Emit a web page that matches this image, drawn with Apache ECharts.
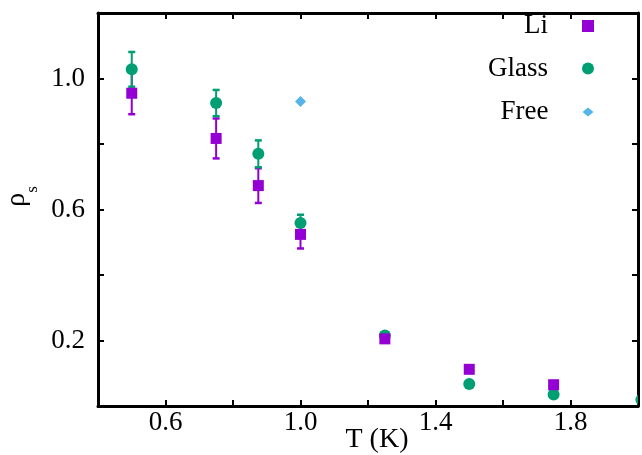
<!DOCTYPE html>
<html><head><meta charset="utf-8">
<script src="https://cdn.jsdelivr.net/npm/echarts@6/dist/echarts.min.js"></script>
<style>html,body{margin:0;padding:0;background:#fff}#c{width:642px;height:455px}</style>
</head><body><div id="c"></div>
<script>
// ---- data ----
const liT = [0.5, 0.75, 0.875, 1.0, 1.25, 1.5, 1.75];
const liRho = [0.955, 0.817, 0.673, 0.524, 0.205, 0.112, 0.065];
const liErr = [0.064, 0.061, 0.053, 0.043, 0.008, 0.004, 0.004];
const glassT = [0.5, 0.75, 0.875, 1.0, 1.25, 1.5, 1.75, 2.01];
const glassRho = [1.028, 0.925, 0.770, 0.559, 0.215, 0.067, 0.035, 0.019];
const glassErr = [0.053, 0.040, 0.041, 0.025, 0.008, 0.004, 0.004, 0.004];
const freeT = [1.0];
const freeRho = [0.93];
const xLabelValues = [0.6, 1.0, 1.4, 1.8];
const xTickValues = [0.6, 0.8, 1.0, 1.2, 1.4, 1.6, 1.8];
const yLabelValues = [0.2, 0.6, 1.0];
const yTickValues = [0.2, 0.4, 0.6, 0.8, 1.0];

const FONT = 'Liberation Serif';
const C_LI = '#9400D3', C_GL = '#009E73', C_FR = '#56B4E9';

function errRender(color) {
  return function (params, api) {
    const x = api.value(0), y = api.value(1), e = api.value(2);
    const hi = api.coord([x, y + e]);
    const lo = api.coord([x, y - e]);
    const cap = 3.5;
    const st = {stroke: color, lineWidth: 2};
    const cs = {stroke: color, lineWidth: 2.5};
    return {type: 'group', children: [
      {type: 'line', shape: {x1: hi[0], y1: hi[1], x2: lo[0], y2: lo[1]}, style: st},
      {type: 'line', shape: {x1: hi[0] - cap, y1: hi[1], x2: hi[0] + cap, y2: hi[1]}, style: cs},
      {type: 'line', shape: {x1: lo[0] - cap, y1: lo[1], x2: lo[0] + cap, y2: lo[1]}, style: cs}
    ]};
  };
}

// glass markers drawn by a clipped custom series so a marker on the border is cut like in the plot
function circleRender(color, r) {
  return function (params, api) {
    const p = api.coord([api.value(0), api.value(1)]);
    return {type: 'circle', shape: {cx: p[0], cy: p[1], r: r}, style: {fill: color}};
  };
}

const axLine = {show: true, onZero: false, lineStyle: {color: '#000', width: 3}};
const tickStyle = {color: '#000', width: 2};
const labelStyle = {fontFamily: FONT, fontSize: 27, color: '#000'};

function legend(name, icon, color, top, w, h, right) {
  return {
    show: true, orient: 'vertical', align: 'right', top: top, right: right,
    padding: 0, itemGap: 0, itemWidth: w, itemHeight: h,
    data: [{name: name, icon: icon, itemStyle: {color: color}}],
    textStyle: {fontFamily: FONT, fontSize: 27, color: '#000', padding: [0, 29, 11, 0]}
  };
}

const chart = echarts.init(document.getElementById('c'), null, {renderer: 'canvas'});
chart.setOption({
  animation: false,
  backgroundColor: '#fff',
  grid: {left: 98, right: 4, top: 13, bottom: 49, outerBoundsMode: 'none', containLabel: false},
  legend: [
    legend('Li', 'rect', C_LI, 12.5, 12, 12, 48),
    legend('Glass', 'circle', C_GL, 55, 12, 12, 48),
    legend('Free', 'diamond', C_FR, 98.5, 11, 9, 48.5)
  ],
  xAxis: [
    {type: 'value', position: 'bottom', min: 0.4, max: 2.0, interval: 0.2,
     axisLine: axLine,
     axisTick: {inside: true, length: 6, lineStyle: tickStyle, customValues: xTickValues},
     axisLabel: Object.assign({customValues: xLabelValues, margin: 3, formatter: v => v.toFixed(1)}, labelStyle),
     splitLine: {show: false},
     name: 'T (K)', nameLocation: 'middle', nameGap: 20, nameMoveOverlap: false,
     nameTextStyle: {fontFamily: FONT, fontSize: 28, color: '#000', padding: [0, 0, 0, 18]}},
    {type: 'value', position: 'top', min: 0.4, max: 2.0, interval: 0.2,
     axisLine: axLine,
     axisTick: {inside: true, length: 6, lineStyle: tickStyle, customValues: xTickValues},
     axisLabel: {show: false}, splitLine: {show: false}}
  ],
  yAxis: [
    {type: 'value', position: 'left', min: 0, max: 1.2, interval: 0.2,
     axisLine: axLine,
     axisTick: {inside: true, length: 6, lineStyle: tickStyle, customValues: yTickValues},
     axisLabel: Object.assign({customValues: yLabelValues, margin: 13, formatter: v => v.toFixed(1)}, labelStyle),
     splitLine: {show: false},
     name: '{r|ρ}{s|s}', nameLocation: 'middle', nameRotate: 90, nameGap: 57, nameMoveOverlap: false,
     nameTextStyle: {fontFamily: FONT, color: '#000', padding: [0, 0, 0, 26],
       rich: {
         r: {fontFamily: FONT, fontSize: 28, verticalAlign: 'top', color: '#000'},
         s: {fontFamily: FONT, fontSize: 17, verticalAlign: 'top', padding: [21, 0, 0, 0], color: '#000'}
       }}},
    {type: 'value', position: 'right', min: 0, max: 1.2, interval: 0.2,
     axisLine: axLine,
     axisTick: {inside: true, length: 6, lineStyle: tickStyle, customValues: yTickValues},
     axisLabel: {show: false}, splitLine: {show: false}}
  ],
  series: [
    {name: 'Li error', type: 'custom', xAxisIndex: 0, yAxisIndex: 0, clip: true,
     renderItem: errRender(C_LI), encode: {x: 0, y: 1}, itemStyle: {color: C_LI},
     data: liT.map((t, i) => [t, liRho[i], liErr[i]])},
    {name: 'Li', type: 'scatter', symbol: 'rect', symbolSize: 11, clip: true,
     itemStyle: {color: C_LI, opacity: 1},
     data: liT.map((t, i) => [t, liRho[i]])},
    {name: 'Glass error', type: 'custom', xAxisIndex: 0, yAxisIndex: 0, clip: true,
     renderItem: errRender(C_GL), encode: {x: 0, y: 1}, itemStyle: {color: C_GL},
     data: glassT.map((t, i) => [t, glassRho[i], glassErr[i]])},
    {name: 'Glass', type: 'custom', xAxisIndex: 0, yAxisIndex: 0, clip: true,
     renderItem: circleRender(C_GL, 6), encode: {x: 0, y: 1}, itemStyle: {color: C_GL},
     data: glassT.map((t, i) => [t, glassRho[i]])},
    {name: 'Free', type: 'scatter', symbol: 'diamond', symbolSize: 11, clip: true,
     itemStyle: {color: C_FR, opacity: 1},
     data: freeT.map((t, i) => [t, freeRho[i]])}
  ]
});
</script>
</body></html>
